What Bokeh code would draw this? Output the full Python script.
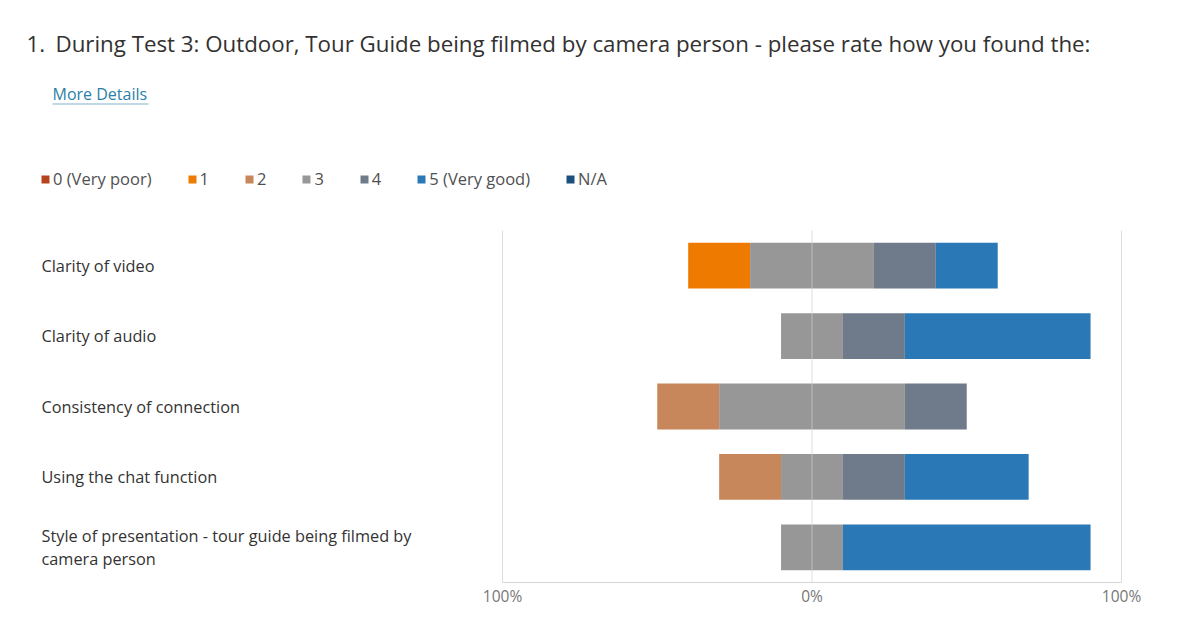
import numpy as np
from bokeh.plotting import figure
from bokeh.models import (ColumnDataSource, Range1d, FixedTicker, Label,
                          LabelSet, Legend, LegendItem, BoxAnnotation)
from bokeh.core.properties import value
from bokeh.embed import file_html
from bokeh.resources import INLINE

# ---------------- data ----------------
question_number = "1."
question_text = "During Test 3: Outdoor, Tour Guide being filmed by camera person - please rate how you found the:"
link_text = "More Details"

categories = ["Clarity of video", "Clarity of audio", "Consistency of connection",
              "Using the chat function",
              "Style of presentation - tour guide being filmed by camera person"]
category_labels = ["Clarity of video", "Clarity of audio", "Consistency of connection",
                   "Using the chat function",
                   "Style of presentation - tour guide being filmed by\ncamera person"]

ratings = ["0 (Very poor)", "1", "2", "3", "4", "5 (Very good)", "N/A"]
rating_colors = ["#B5441E", "#EE7A00", "#C8875A", "#979797", "#6F7B8A", "#2A78B6", "#1B4F7E"]

# responses per rating (counts), one value per category
r0 = [0, 0, 0, 0, 0]
r1 = [1, 0, 0, 0, 0]
r2 = [0, 0, 1, 1, 0]
r3 = [2, 1, 3, 1, 1]
r4 = [1, 1, 1, 1, 0]
r5 = [1, 3, 0, 2, 4]
rna = [0, 0, 0, 0, 0]

tick_values = [-100, 0, 100]
tick_labels = ["100%", "0%", "100%"]

# ---------------- layout ----------------
W, H = 1189, 638
AX_L, AX_R = 502, 1121      # pixel positions of -100% and +100%
PLOT_TOP, PLOT_BOT = 230, 582
n = len(categories)
kx = (AX_R - AX_L) / 200.0
band = (PLOT_BOT - PLOT_TOP) / n

x_start = -100 - AX_L / kx
x_end = 100 + (W - AX_R) / kx
y_start = -0.5
y_end = -0.5 + PLOT_BOT / band


def sy(page_y):
    return PLOT_BOT - page_y


FONT = "Open Sans"

p = figure(width=W, height=H,
           x_range=Range1d(x_start, x_end), y_range=Range1d(y_start, y_end),
           output_backend="svg", toolbar_location=None,
           min_border_left=0, min_border_right=0, min_border_top=0,
           min_border_bottom=H - PLOT_BOT)
p.outline_line_color = None
p.background_fill_color = "white"
p.border_fill_color = "white"
p.yaxis.visible = False
p.grid.visible = False

# ---------------- bars (diverging, neutral "3" centred on 0) ----------------
ypos = np.arange(n)[::-1].astype(float)   # first category on top
counts = np.array([r0, r1, r2, r3, r4, r5, rna], dtype=float)
totals = counts.sum(axis=0)
pct = counts / totals * 100.0
start = -(pct[0] + pct[1] + pct[2] + pct[3] / 2.0)
lefts = start + np.vstack([np.zeros(n), np.cumsum(pct, axis=0)[:-1]])
rights = lefts + pct

renderers = []
for i, name in enumerate(ratings):
    src = ColumnDataSource(dict(y=ypos, left=lefts[i], right=rights[i]))
    r = p.hbar(y="y", left="left", right="right", height=0.65, source=src,
               fill_color=rating_colors[i], line_color=None)
    renderers.append(r)

# vertical grid lines at the ticks, limited to the category area, drawn over the bars
p.segment(x0=tick_values, x1=tick_values, y0=[-0.5] * len(tick_values),
          y1=[n - 0.5] * len(tick_values), line_color="#d0d0d0", line_alpha=0.7,
          line_width=1)

# ---------------- axis ----------------
p.xaxis.bounds = (-100, 100)
p.xaxis.ticker = FixedTicker(ticks=tick_values)
p.xaxis.major_label_overrides = {v: t for v, t in zip(tick_values, tick_labels)}
p.xaxis.axis_line_color = "#d6d6d6"
p.xaxis.major_tick_line_color = None
p.xaxis.minor_tick_line_color = None
p.xaxis.major_tick_out = 0
p.xaxis.major_tick_in = 0
p.xaxis.major_label_text_font = FONT
p.xaxis.major_label_text_font_size = "15.5px"
p.xaxis.major_label_text_color = "#777777"
p.xaxis.major_label_standoff = 2

# ---------------- texts ----------------
p.add_layout(Label(x=26, y=sy(43), x_units="screen", y_units="screen",
                   text=question_number, text_font=FONT, text_font_size="22.3px",
                   text_color="#323130", text_baseline="middle"))
p.add_layout(Label(x=55, y=sy(43), x_units="screen", y_units="screen",
                   text=question_text, text_font=FONT, text_font_size="22.3px",
                   text_color="#323130", text_baseline="middle"))
p.add_layout(Label(x=52, y=sy(93), x_units="screen", y_units="screen",
                   text=link_text, text_font=FONT, text_font_size="16px",
                   text_color="#2b7fa8", text_baseline="middle"))
p.add_layout(BoxAnnotation(left=52, right=148, bottom=sy(104), top=sy(103),
                           left_units="screen", right_units="screen",
                           bottom_units="screen", top_units="screen",
                           fill_color="#2b7fa8", fill_alpha=0.6, line_color=None))

lab_src = ColumnDataSource(dict(y=ypos, text=category_labels))
p.add_layout(LabelSet(x=41, y="y", x_units="screen", text="text", source=lab_src,
                      text_font=value(FONT), text_font_size="16.3px", text_color="#333333",
                      text_baseline="middle", text_align="left", text_line_height=1.03))

# ---------------- legend ----------------
legend = Legend(items=[LegendItem(label=name, renderers=[r]) for name, r in zip(ratings, renderers)],
                orientation="horizontal", location=(40, sy(190)),
                glyph_width=10, glyph_height=10, label_standoff=3, spacing=35,
                label_width=0,
                padding=0, margin=0, border_line_color=None, background_fill_alpha=0,
                label_text_font=FONT, label_text_font_size="16.5px", label_text_color="#505050",
                label_height=18)
p.add_layout(legend)

open("out.html", "w").write(file_html(p, INLINE))
